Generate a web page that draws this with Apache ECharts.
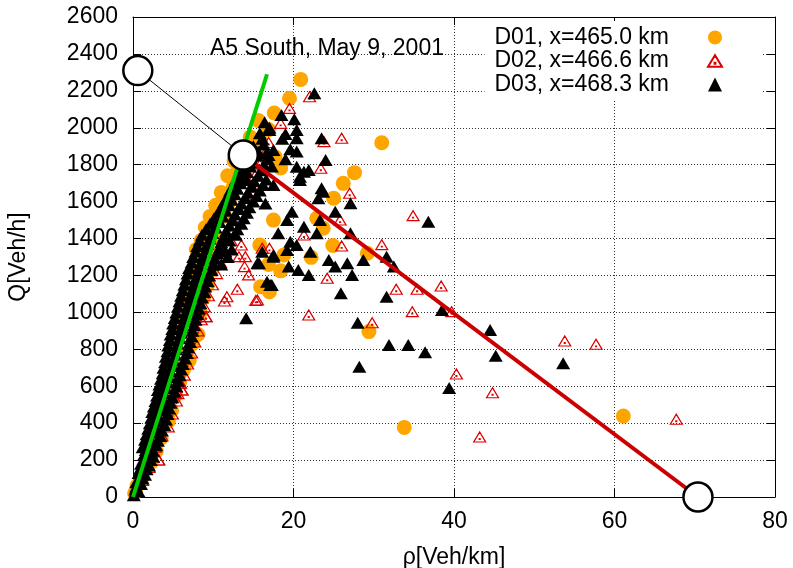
<!DOCTYPE html>
<html><head><meta charset="utf-8">
<script src="https://cdn.jsdelivr.net/npm/echarts@6/dist/echarts.min.js"></script>
<style>html,body{margin:0;padding:0;background:#fff}#c{width:793px;height:568px}</style>
</head><body><div id="c"></div>
<script>
// ---------- data ----------
const titleText = 'A5 South, May 9, 2001';
const xName = 'ρ[Veh/km]';
const yName = 'Q[Veh/h]';
const xMin = 0, xMax = 80, xStep = 20;
const yMin = 0, yMax = 2600, yStep = 200;
const seriesNames = ['D01, x=465.0 km', 'D02, x=466.6 km', 'D03, x=468.3 km'];

// D01 (orange circles)
const d01Band = [[0.2,20],[0.5,60],[1.1,100],[1.6,150],[2.3,190],[2.0,260],[2.9,250],[2.6,330],[3.5,320],[3.1,400],[4.4,410],[3.6,480],[4.8,470],[4.0,560],[5.3,550],[4.5,640],[5.8,620],[6.3,690],[5.0,720],[7.0,740],[5.4,800],[7.4,830],[5.8,880],[8.1,880],[6.2,960],[7.6,980],[8.4,1000],[6.6,1050],[8.8,1080],[7.1,1130],[9.3,1150],[7.6,1210],[7.8,1222],[9.8,1230],[8.0,1290],[10.3,1310],[7.9,1340],[8.5,1390],[10.8,1400],[9.0,1460],[11.3,1520],[9.6,1520],[10.3,1580],[12.0,1600],[11.0,1650],[12.5,1680],[11.8,1740],[13.0,1760],[12.6,1820],[13.8,1880],[14.6,1950],[15.6,2040]];
const d01Scatter = [[20.9,2262],[19.5,2160],[17.6,2080],[16.9,1990],[15.9,1925],[31.0,1919],[27.6,1757],[26.2,1699],[18.4,1782],[17.7,1843],[25.0,1618],[22.9,1510],[17.5,1500],[23.7,1456],[24.9,1362],[29.2,1320],[22.2,1298],[18.8,1311],[18.4,1225],[16.9,1260],[15.8,1365],[15.9,1139],[17.0,1112],[29.4,896],[33.8,377],[61.1,439],[10.7,1401],[11.3,1537]];

// D02 (red open triangles)
const d02Band = [[0.4,30],[1.2,90],[2.0,160],[3.2,200],[2.8,270],[3.6,330],[4.4,380],[4.9,450],[5.4,520],[5.6,560],[6.1,580],[5.9,616],[6.4,660],[6.8,720],[7.3,780],[7.7,840],[8.1,900],[8.5,960],[9.1,977],[8.9,1030],[9.4,1090],[9.9,1150],[10.4,1210],[10.9,1270],[11.5,1330],[12.2,1390],[12.6,1450],[13.0,1500],[13.6,1560],[14.2,1620],[14.8,1680],[15.2,1740],[15.8,1800],[16.4,1860],[16.9,1920]];
const d02Scatter = [[22.0,2168],[19.5,2105],[18.4,2024],[26.0,1943],[23.8,1925],[23.4,1781],[27.0,1645],[34.9,1524],[25.8,1500],[21.3,1419],[26.0,1360],[31.0,1367],[24.2,1185],[32.8,1125],[35.4,1125],[38.4,1143],[34.8,1004],[21.9,986],[15.5,1067],[16.1,1347],[17.0,1347],[39.7,1004],[53.8,845],[57.7,827],[40.3,666],[29.8,944],[43.2,325],[44.8,565],[67.7,421],[13.5,1365],[14.0,1302],[13.2,1302],[13.9,1248],[14.4,1203],[13.0,1125],[11.7,1085],[11.4,1062],[15.3,1065],[9.1,977],[5.9,616],[6.1,580],[3.2,200]];

// D03 (black filled triangles)
const d03Band = [[0.1,10],[0.3,40],[0.7,30],[0.4,80],[1.0,70],[0.7,130],[1.5,120],[1.0,180],[2.0,170],[1.4,230],[2.5,220],[1.2,270],[1.9,290],[2.9,280],[1.7,340],[2.5,350],[3.4,330],[2.1,400],[3.0,410],[3.9,390],[2.4,460],[3.4,470],[4.3,450],[2.8,520],[3.7,530],[4.7,510],[3.1,580],[4.1,590],[5.2,570],[3.5,640],[4.5,650],[5.6,630],[3.8,700],[4.9,710],[6.0,690],[4.1,760],[5.3,770],[6.5,750],[4.4,820],[5.6,830],[6.9,810],[4.7,880],[6.0,890],[7.3,870],[5.0,940],[6.3,950],[7.6,930],[5.4,1000],[6.7,1010],[8.0,990],[5.8,1060],[7.1,1070],[8.4,1050],[6.2,1120],[7.5,1130],[8.9,1110],[6.6,1180],[7.9,1190],[9.3,1170],[7.0,1240],[8.3,1250],[9.8,1230],[11.0,1260],[7.5,1300],[8.8,1310],[10.2,1290],[11.8,1300],[8.0,1360],[9.3,1370],[10.8,1350],[12.3,1340],[8.6,1420],[9.9,1430],[11.3,1410],[12.8,1420],[9.6,1480],[10.8,1490],[12.0,1470],[13.5,1480],[10.6,1540],[11.6,1550],[12.7,1530],[14.2,1540],[11.4,1600],[12.3,1610],[13.5,1590],[15.0,1600],[16.5,1590],[12.1,1660],[13.0,1670],[14.3,1650],[15.8,1660],[12.8,1720],[13.8,1730],[15.1,1710],[16.6,1720],[13.5,1780],[14.6,1790],[16.0,1770],[17.3,1790],[14.4,1840],[15.4,1850],[16.8,1830],[15.0,1900],[16.3,1910],[15.8,1970],[17.5,1880],[18.6,1940]];
const d03Band2 = [[0.4,55],[1.2,100],[0.9,155],[1.7,150],[1.3,205],[2.2,200],[1.6,255],[2.5,250],[1.5,310],[2.2,315],[3.1,305],[1.9,370],[2.8,375],[3.6,360],[2.3,430],[3.2,435],[4.1,420],[2.6,490],[3.6,500],[4.5,480],[3.0,550],[3.9,560],[4.9,540],[3.3,610],[4.3,620],[5.4,600],[3.7,670],[4.7,680],[5.8,660],[4.0,730],[5.1,740],[6.2,720],[4.3,790],[5.4,800],[6.7,780],[4.6,850],[5.8,860],[7.1,840],[4.9,910],[6.1,920],[7.4,900],[5.2,970],[6.5,980],[7.8,960],[5.6,1030],[6.9,1040],[8.2,1020],[6.0,1090],[7.3,1100],[8.6,1080],[6.4,1150],[7.7,1160],[9.0,1140],[6.8,1210],[8.1,1220],[9.5,1200],[7.3,1270],[8.6,1280],[10.0,1260],[7.8,1330],[9.1,1340],[10.5,1320],[11.5,1330],[8.3,1390],[9.6,1400],[11.0,1380],[12.0,1390],[9.1,1450],[10.3,1460],[11.6,1440],[13.0,1450],[10.1,1510],[11.2,1520],[12.4,1500],[13.8,1510],[11.0,1570],[12.0,1580],[13.2,1560],[14.5,1570],[11.8,1630],[12.7,1640],[14.0,1620],[15.4,1630],[12.5,1690],[13.4,1700],[14.8,1680],[16.2,1690],[13.2,1750],[14.2,1760],[15.6,1740],[14.9,1810],[16.3,1800],[15.6,1870],[16.6,1860],[16.1,1940],[17.0,2000],[16.4,2030]];
const d03Scatter = [[22.6,2187],[18.5,2069],[20.1,2046],[17.0,1988],[20.4,1988],[19.0,1966],[23.5,1943],[20.4,1943],[19.6,1883],[20.4,1871],[16.9,1853],[24.0,1826],[19.0,1829],[20.4,1789],[21.9,1771],[20.8,1735],[14.2,1717],[23.5,1672],[21.3,1762],[20.8,1717],[17.5,1690],[23.7,1654],[23.1,1618],[27.1,1591],[25.2,1545],[19.8,1545],[36.8,1491],[19.2,1500],[23.3,1500],[21.3,1464],[27.1,1428],[18.1,1428],[22.9,1428],[19.6,1383],[20.4,1365],[16.1,1329],[22.1,1329],[19.2,1338],[17.5,1302],[31.6,1302],[24.4,1284],[15.5,1266],[26.7,1266],[28.7,1284],[25.2,1248],[19.4,1248],[32.5,1248],[20.6,1230],[21.9,1203],[27.3,1203],[17.1,1148],[16.7,1166],[25.9,1103],[31.6,1085],[38.5,1013],[44.5,905],[31.9,823],[34.3,823],[36.4,784],[45.2,765],[53.6,724],[39.4,590],[28.0,944],[28.2,706],[14.1,968],[17.5,1311],[15.7,1266],[17.3,1148]];

// Fundamental diagram lines
const freeFlowLine = [[0,0],[16.7,2290]];
const congestedLine = [[13.74,1852],[70.4,0]];
const extensionLine = [[0.6,2310],[13.74,1852]];
const keyPoints = [[0.6,2310],[13.74,1852],[70.4,0]];

// ---------- chart ----------
const FONT = '"Liberation Sans", Arial, Helvetica, sans-serif';
const FS = 23;
const openTri = 'path://M0,10 L6,0 L12,10 Z M5.6,6.6 L6.4,6.6 L6.4,7.4 L5.6,7.4 Z';
const chart = echarts.init(document.getElementById('c'), null, {renderer: 'canvas'});
const gridLine = {show: true, lineStyle: {color: '#333', width: 1, type: [1, 2]}};
const tickIn = {show: true, inside: true, length: 8, lineStyle: {color: '#000', width: 1}};
const axisLine = {show: true, onZero: false, lineStyle: {color: '#000', width: 1}};
const labelStyle = {color: '#000', fontSize: FS, fontFamily: FONT, formatter: v => String(v)};

chart.setOption({
  animation: false,
  backgroundColor: '#fff',
  textStyle: {fontFamily: FONT},
  title: {text: titleText, left: 210, top: 37, padding: 0,
    textStyle: {fontSize: FS, fontWeight: 'normal', color: '#000', fontFamily: FONT}},
  grid: {left: 133, right: 18, top: 17, bottom: 71, containLabel: false, outerBoundsMode: 'none'},
  legend: {
    orient: 'vertical', right: 31, top: 21, align: 'right',
    itemWidth: 14, itemHeight: 14, itemGap: 0.5,
    backgroundColor: '#fff', padding: [5, 39, 5, 10], selectedMode: false,
    textStyle: {fontSize: FS, lineHeight: 22, color: '#000', fontFamily: FONT, padding: [0, 34, 0, 0]},
    data: [
      {name: seriesNames[0], icon: 'circle'},
      {name: seriesNames[1], icon: openTri},
      {name: seriesNames[2], icon: 'triangle'}
    ]
  },
  xAxis: [
    {type: 'value', min: xMin, max: xMax, interval: xStep, position: 'bottom',
     name: xName, nameLocation: 'middle', nameGap: 49,
     nameTextStyle: {fontSize: FS, color: '#000', fontFamily: FONT},
     axisLine, axisTick: tickIn, splitLine: gridLine,
     axisLabel: Object.assign({margin: 13}, labelStyle)},
    {type: 'value', min: xMin, max: xMax, interval: xStep, position: 'top',
     axisLine, axisTick: tickIn, splitLine: {show: false}, axisLabel: {show: false}}
  ],
  yAxis: [
    {type: 'value', min: yMin, max: yMax, interval: yStep, position: 'left',
     name: yName, nameLocation: 'middle', nameGap: 103, nameRotate: 90,
     nameTextStyle: {fontSize: FS, color: '#000', fontFamily: FONT},
     axisLine, axisTick: tickIn, splitLine: gridLine,
     axisLabel: Object.assign({margin: 15}, labelStyle)},
    {type: 'value', min: yMin, max: yMax, interval: yStep, position: 'right',
     axisLine, axisTick: tickIn, splitLine: {show: false}, axisLabel: {show: false}}
  ],
  series: [
    {name: seriesNames[0], type: 'scatter', data: d01Band.concat(d01Scatter),
     symbol: 'circle', symbolSize: 15, itemStyle: {color: '#ffa500', opacity: 1}},
    {name: seriesNames[1], type: 'scatter', data: d02Band.concat(d02Scatter),
     symbol: openTri, symbolSize: [12, 10],
     itemStyle: {color: 'rgba(255,255,255,0)', borderColor: '#dd0000', borderWidth: 1.2, opacity: 1}},
    {name: seriesNames[2], type: 'scatter', data: d03Band.concat(d03Band2, d03Scatter),
     symbol: 'triangle', symbolSize: [14, 12], itemStyle: {color: '#000', opacity: 1}},
    {type: 'line', data: freeFlowLine, symbol: 'none', lineStyle: {color: '#00cc00', width: 4}},
    {type: 'line', data: congestedLine, symbol: 'none', lineStyle: {color: '#cc0000', width: 4}},
    {type: 'line', data: extensionLine, symbol: 'none', clip: false, lineStyle: {color: '#000', width: 1}},
    {type: 'scatter', data: keyPoints, symbol: 'circle', symbolSize: 29, clip: false, z: 5,
     itemStyle: {color: '#fff', borderColor: '#000', borderWidth: 2.5, opacity: 1}}
  ]
});
</script></body></html>
